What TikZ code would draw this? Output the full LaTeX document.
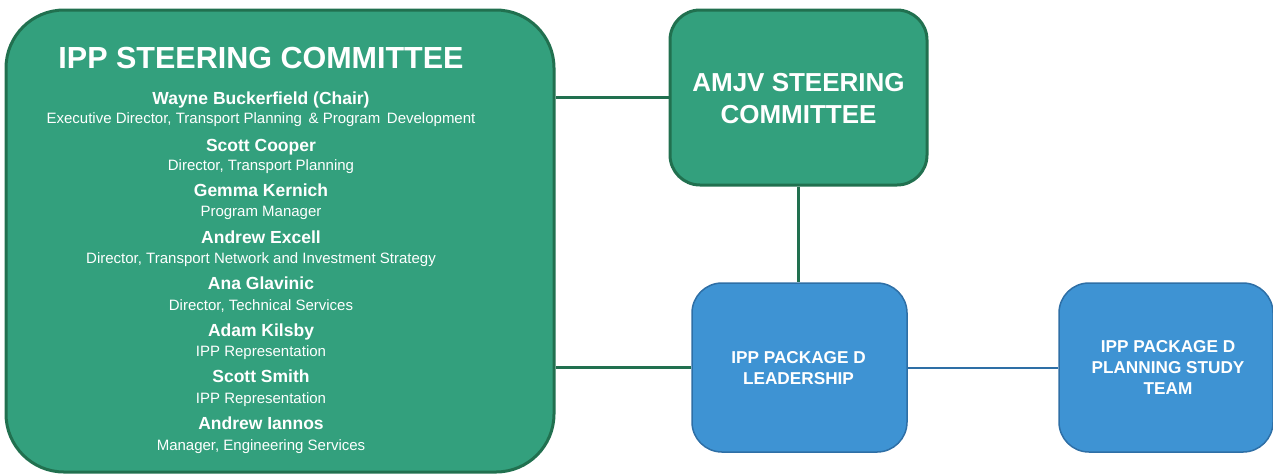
\documentclass[tikz,border=0pt]{standalone}
\usepackage{fontspec}
\setmainfont{Liberation Sans}
\definecolor{gfill}{HTML}{33A07D}
\definecolor{gline}{HTML}{21704F}
\definecolor{bfill}{HTML}{3E93D3}
\definecolor{bline}{HTML}{2E6FA6}
\tikzset{
  gbox/.style={draw=gline, fill=gfill, line width=3pt, inner sep=0pt},
  bbox/.style={draw=bline, fill=bfill, line width=1.5pt, inner sep=0pt},
  gconn/.style={draw=gline, line width=3pt},
  bconn/.style={draw=bline, line width=2pt},
  txt/.style={text=white, inner sep=0pt, anchor=base, align=center},
  ttl/.style={txt, font=\bfseries\fontsize{30.5}{36}\selectfont},
  amj/.style={txt, font=\bfseries\fontsize{26}{31}\selectfont},
  nm/.style={txt, font=\bfseries\fontsize{17.5}{21}\selectfont},
  ds/.style={txt, font=\fontsize{15}{18}\selectfont},
  pk/.style={txt, font=\bfseries\fontsize{17.2}{21}\selectfont},
}
\begin{document}
\begin{tikzpicture}[x=1pt,y=-1pt]
\useasboundingbox (0,0) rectangle (1273,475);
% boxes
\node[gbox, rounded corners=58pt, minimum width=548pt, minimum height=462pt] (ipp) at (280,241) {};
\node[gbox, rounded corners=30pt, minimum width=257pt, minimum height=175pt] (amjv) at (798.5,97.5) {};
\node[bbox, rounded corners=30pt, minimum width=215pt, minimum height=169pt] (lead) at (799.5,367.5) {};
\node[bbox, rounded corners=30pt, minimum width=214pt, minimum height=169pt] (plan) at (1166,367.5) {};
% connectors
\draw[gconn] (amjv.west) -- (amjv.west -| ipp.east);
\draw[gconn] (lead.west) -- (lead.west -| ipp.east);
\draw[gconn] (amjv.south) -- (amjv.south |- lead.north);
\draw[bconn] (lead.east) -- (plan.west);
% IPP text
\node[ttl] (t0) at (261,68) {IPP STEERING COMMITTEE};
\node[nm] (n1) at (261,104.3) {Wayne Buckerfield (Chair)};
\node[ds] (d1) at (261,123.4) {Executive Director, Transport Planning \,\& Program \,Development};
\node[nm] (n2) at (261,151.5) {Scott Cooper};
\node[ds] (d2) at (261,170.5) {Director, Transport Planning};
\node[nm] (n3) at (261,196.8) {Gemma Kernich};
\node[ds] (d3) at (261,216.6) {Program Manager};
\node[nm] (n4) at (261,243) {Andrew Excell};
\node[ds] (d4) at (261,263.4) {Director, Transport Network and Investment Strategy};
\node[nm] (n5) at (261,289.5) {Ana Glavinic};
\node[ds] (d5) at (261,310) {Director, Technical Services};
\node[nm] (n6) at (261,336.5) {Adam Kilsby};
\node[ds] (d6) at (261,356.5) {IPP Representation};
\node[nm] (n7) at (261,382.8) {Scott Smith};
\node[ds] (d7) at (261,403) {IPP Representation};
\node[nm] (n8) at (261,429.5) {Andrew Iannos};
\node[ds] (d8) at (261,450) {Manager, Engineering Services};
% AMJV text
\node[amj] (a1) at (798.5,91.3) {AMJV STEERING};
\node[amj] (a2) at (798.5,123.3) {COMMITTEE};
% leadership
\node[pk] (l1) at (798.5,363.3) {IPP PACKAGE D};
\node[pk] (l2) at (798.5,384.3) {LEADERSHIP};
% planning
\node[pk] (p1) at (1168,352.1) {IPP PACKAGE D};
\node[pk] (p2) at (1168,373.1) {PLANNING STUDY};
\node[pk] (p3) at (1168,394.1) {TEAM};
\end{tikzpicture}
\end{document}
